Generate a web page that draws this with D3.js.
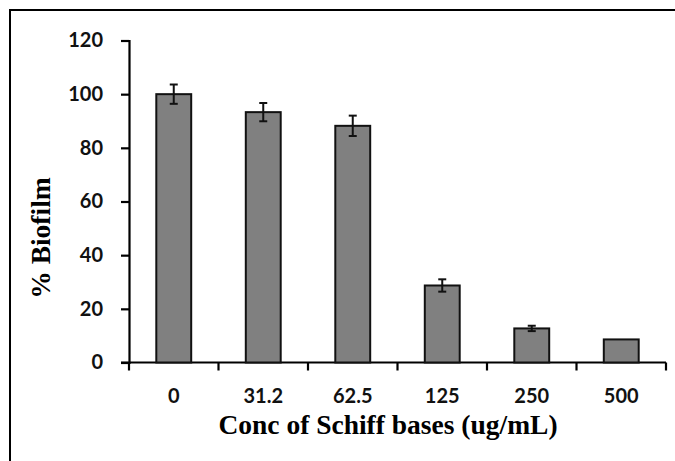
<!DOCTYPE html>
<html>
<head>
<meta charset="utf-8">
<script src="https://cdn.jsdelivr.net/npm/d3@7/dist/d3.min.js"></script>
<style>
	body { margin: 0; background: #fff; }
	#chart { width: 675px; height: 461px; }
	.tick text { font-family: Lato, "Open Sans", sans-serif; font-weight: 700; }
</style>
</head>
<body>
<div id="chart"></div>
<script>
const categories = ["0", "31.2", "62.5", "125", "250", "500"];
const biofilm = [100, 93.3, 88.2, 28.7, 12.7, 8.6];
const errors = [3.6, 3.4, 3.8, 2.3, 1.0, 0];
const yTicks = [0, 20, 40, 60, 80, 100, 120];

const W = 675, H = 461;
let margin = { top: 40.5, left: 129, bottom: 98.5, right: 9 };

let svg = d3.select("#chart")
	.append("svg")
	.attr("width", W)
	.attr("height", H);

// outer frame (left and top edges only show in the picture)
svg.append("path")
	.attr("d", "M10," + H + "V10H" + W)
	.attr("fill", "none")
	.attr("stroke", "#000")
	.attr("stroke-width", 2);

let x = d3.scaleBand()
	.domain(categories)
	.range([margin.left, W - margin.right])
	.paddingInner(0.61)
	.paddingOuter(0.305);

let y = d3.scaleLinear()
	.domain([0, 120])
	.range([H - margin.bottom, margin.top]);

// y axis
let yAxis = svg.append("g")
	.attr("transform", "translate(" + margin.left + ",0)")
	.call(d3.axisLeft(y)
		.tickValues(yTicks)
		.tickSize(8)
		.tickPadding(18)
		.tickFormat(d3.format("d"))
	);
yAxis.select(".domain").attr("stroke-width", 2.2);
yAxis.selectAll(".tick line").attr("stroke-width", 2.2);
yAxis.selectAll("text").attr("font-size", 20).attr("fill", "#111");

// x axis, labels only
let xAxis = svg.append("g")
	.attr("transform", "translate(0," + y(0) + ")")
	.call(d3.axisBottom(x).tickSize(0).tickPadding(26));
xAxis.select(".domain").remove();
xAxis.selectAll("text").attr("font-size", 20).attr("fill", "#111");

// x baseline + ticks at band boundaries
let bounds = categories.map(c => x(c) - x.step() * x.paddingInner() / 2).concat([W - margin.right]);
svg.append("line")
	.attr("x1", margin.left - 8)
	.attr("x2", W - margin.right)
	.attr("y1", y(0))
	.attr("y2", y(0))
	.attr("stroke", "#000")
	.attr("stroke-width", 2.2);
svg.append("g")
	.selectAll("line")
	.data(bounds)
	.enter()
	.append("line")
	.attr("x1", d => d)
	.attr("x2", d => d)
	.attr("y1", y(0))
	.attr("y2", y(0) + 8)
	.attr("stroke", "#000")
	.attr("stroke-width", 2.2);

// bars
svg.append("g")
	.selectAll("rect")
	.data(biofilm)
	.enter()
	.append("rect")
	.attr("x", (d, i) => x(categories[i]))
	.attr("y", d => y(d))
	.attr("width", x.bandwidth())
	.attr("height", d => y(0) - y(d))
	.attr("fill", "#808080")
	.attr("stroke", "#111")
	.attr("stroke-width", 2);

// error bars
let err = svg.append("g")
	.selectAll("g")
	.data(biofilm.map((v, i) => ({ cat: categories[i], v: v, e: errors[i] })).filter(d => d.e > 0))
	.enter()
	.append("g")
	.attr("transform", d => "translate(" + (x(d.cat) + x.bandwidth() / 2) + ",0)")
	.attr("stroke", "#111")
	.attr("stroke-width", 2);
err.append("line")
	.attr("y1", d => y(d.v + d.e))
	.attr("y2", d => y(d.v - d.e));
err.append("line")
	.attr("x1", -4).attr("x2", 4)
	.attr("y1", d => y(d.v + d.e))
	.attr("y2", d => y(d.v + d.e));
err.append("line")
	.attr("x1", -4).attr("x2", 4)
	.attr("y1", d => y(d.v - d.e))
	.attr("y2", d => y(d.v - d.e));

// axis titles
svg.append("text")
	.attr("x", 388)
	.attr("y", 434)
	.attr("text-anchor", "middle")
	.attr("font-family", "'Liberation Serif', 'Times New Roman', serif")
	.attr("font-weight", "bold")
	.attr("font-size", 27.5)
	.text("Conc of Schiff bases (ug/mL)");

svg.append("text")
	.attr("transform", "translate(50," + 238 + ") rotate(-90)")
	.attr("text-anchor", "middle")
	.attr("font-family", "'Liberation Serif', 'Times New Roman', serif")
	.attr("font-weight", "bold")
	.attr("font-size", 27.5)
	.text("% Biofilm");
</script>
</body>
</html>
